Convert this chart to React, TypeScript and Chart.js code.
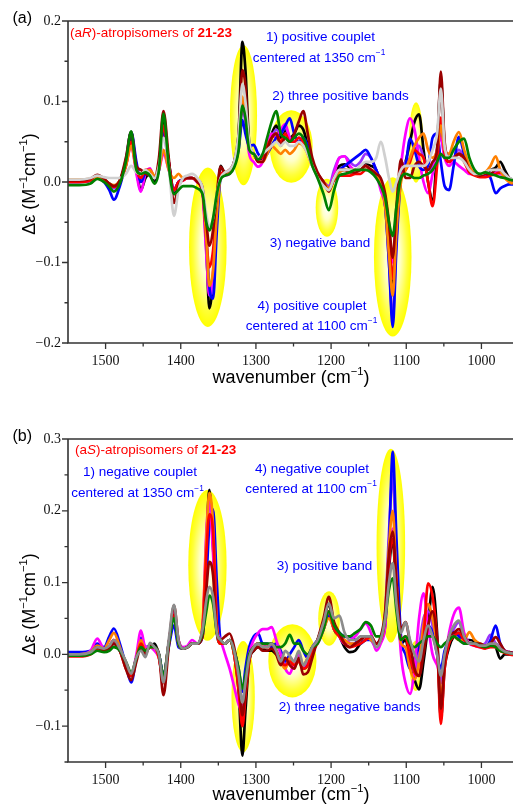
import React, { useEffect, useRef } from 'react';
import { Chart, registerables } from 'chart.js';

Chart.register(...registerables);

// ---------- data (Δε in units of 10^-3 M^-1 cm^-1) ----------
const wavenumbers = [
  1550, 1535, 1520, 1511, 1502, 1495, 1489, 1481, 1473, 1466,
  1459, 1453, 1447, 1441, 1435, 1429, 1423, 1416, 1409, 1403,
  1397, 1391, 1385, 1378, 1371, 1366, 1362, 1357, 1352, 1347,
  1341, 1335, 1329, 1323, 1318, 1314, 1309, 1303, 1297, 1291,
  1285, 1279, 1273, 1267, 1261, 1255, 1249, 1243, 1237, 1231,
  1225, 1218, 1210, 1203, 1196, 1189, 1182, 1175, 1168, 1161,
  1154, 1147, 1140, 1134, 1128, 1123, 1118, 1113, 1107, 1101,
  1095, 1089, 1083, 1077, 1071, 1065, 1059, 1054, 1049, 1043,
  1037, 1030, 1023, 1016, 1009, 1002, 995, 988, 981, 975,
  969, 963, 958,
];

// panel (a): (aR)-atropisomers
const aBlack = [
  0, 0, 2, 8, 3, -2, -5, 2, 25, 55,
  15, -10, 5, 10, 0, 20, 75, 25, -15, 0,
  3, 5, 5, 2, -10, -80, -157, -120, -35, 20,
  10, 12, 25, 60, 174, 140, 50, 35, 28, 30,
  45, 60, 70, 55, 65, 55, 60, 70, 65, 45,
  25, 10, 0, -10, 5, 20, 22, 18, 15, 15,
  22, 20, 15, -5, -20, -70, -125, -50, 10, 25,
  50, 75, 84, 40, 0, -22, 40, 128, 45, 25,
  30, 35, 30, 15, 10, 8, 10, 15, 18, 25,
  15, 5, 3,
];
const aMaroon = [
  2, 2, 4, 9, 4, -2, -5, 2, 30, 62,
  20, 15, 10, 8, 5, 30, 88, 30, -26, -5,
  3, 5, 5, 0, -12, -50, -79, -60, -15, 19,
  12, 15, 25, 60, 139, 120, 45, 35, 25, 25,
  40, 55, 60, 45, 55, 50, 60, 75, 88, 60,
  30, 12, 0, -12, 5, 15, 15, 12, 12, 15,
  20, 15, 10, 5, -15, -50, -94, -30, 28, 5,
  5, 20, 25, 20, 15, 25, 40, 137, 50, 30,
  30, 35, 30, 15, 10, 8, 10, 10, 15, 15,
  10, 5, 2,
];
const aRed = [
  0, 0, 2, 6, 3, -3, -6, 0, 20, 50,
  15, 5, 15, 15, 5, 20, 70, 25, -10, 0,
  2, 5, 5, 0, -12, -70, -106, -85, -25, 10,
  12, 15, 20, 45, 100, 85, 45, 35, 30, 30,
  45, 55, 60, 50, 60, 50, 50, 55, 50, 40,
  25, 10, 0, -8, 2, 8, 8, 8, 10, 10,
  15, 15, 10, 0, -20, -70, -120, -50, 5, 15,
  25, 40, 35, 30, 0, -30, 20, 80, 35, 25,
  30, 35, 25, 12, 8, 6, 6, 8, 10, 12,
  8, 4, 2,
];
const aBlue = [
  2, 2, 3, 5, 0, -10, -22, -5, 25, 62,
  25, 0, 10, 8, 5, 15, 65, 25, -10, 0,
  3, 5, 5, 2, -8, -70, -130, -145, -60, 5,
  10, 12, 20, 40, 77, 60, 45, 46, 35, 30,
  35, 45, 55, 60, 70, 79, 60, 50, 55, 45,
  25, 10, -2, -8, 5, 15, 20, 25, 30, 35,
  40, 30, 15, 0, -30, -100, -180, -80, 5, 20,
  54, 40, 20, 15, 20, 55, 60, 25, -5, -10,
  20, 56, 35, 15, 10, 8, 10, 5, -14, -8,
  -5, -3, -3,
];
const aMagenta = [
  0, 0, 2, 5, 2, -3, -6, 0, 20, 45,
  10, -12, 10, 17, 5, 15, 35, 15, -10, 0,
  2, 5, 5, 0, -15, -90, -140, -110, -30, 10,
  8, 10, 20, 50, 100, 80, 35, 25, 19, 25,
  45, 60, 55, 65, 72, 55, 50, 55, 50, 35,
  20, 10, 0, -10, 10, 30, 32, 20, 15, 15,
  20, 15, 10, -10, -30, -70, -100, -40, 20, 60,
  79, 65, 30, 0, -14, 10, 40, 55, 30, 20,
  25, 20, 15, 10, 10, 8, 8, 10, 12, 10,
  8, 4, 2,
];
const aPurple = [
  0, 0, 2, 5, 2, -3, -8, 0, 28, 62,
  20, 5, 12, 10, 5, 20, 60, 20, -10, 0,
  3, 5, 5, 0, -12, -85, -141, -130, -40, 5,
  10, 12, 20, 45, 90, 75, 40, 35, 30, 30,
  40, 55, 65, 60, 68, 55, 50, 55, 50, 40,
  25, 10, 0, -5, 15, 30, 32, 25, 20, 25,
  35, 30, 15, 0, -30, -100, -170, -70, 10, 25,
  30, 40, 45, 30, 15, 20, 40, 60, 30, 25,
  30, 40, 30, 15, 10, 8, 8, 10, 12, 12,
  8, 4, 2,
];
const aOrange = [
  3, 3, 4, 6, 3, -2, -4, 2, 20, 45,
  15, 10, 12, 15, 8, 15, 40, 15, 5, 10,
  5, 5, 5, 2, -8, -70, -129, -110, -40, 5,
  10, 12, 20, 45, 106, 90, 45, 35, 25, 25,
  35, 45, 40, 35, 40, 35, 40, 48, 45, 35,
  20, 10, 0, -8, 5, 12, 15, 15, 15, 15,
  20, 15, 10, 0, -30, -90, -141, -60, 0, 15,
  30, 45, 55, 60, 40, 30, 40, 70, 40, 35,
  50, 62, 40, 20, 10, 8, 12, 20, 32, 15,
  5, 0, -2,
];
const aGreen = [
  -4, -4, -2, 4, 0, -6, -12, -2, 25, 63,
  15, 10, 12, 8, -2, 15, 85, 20, -15, -10,
  -5, -5, -5, -8, -15, -50, -60, -45, -15, 3,
  8, 10, 18, 40, 95, 80, 40, 35, 28, 35,
  55, 75, 88, 60, 55, 50, 55, 60, 55, 40,
  20, 5, -15, -35, -10, 8, 10, 12, 15, 15,
  15, 12, 5, -5, -20, -50, -67, -30, 5, 10,
  8, 5, 5, 8, 10, 15, 25, 35, 30, 30,
  40, 50, 54, 30, 15, 10, 12, 10, 8, 6,
  5, 3, 2,
];
const aGrey = [
  3, 3, 5, 8, 6, 5, 5, 5, 10, 20,
  12, 10, 15, 10, 5, 20, 55, 20, -42, -10,
  5, 8, 10, 5, -8, -40, -55, -45, -15, 5,
  12, 15, 25, 60, 122, 100, 50, 35, 30, 35,
  40, 45, 50, 45, 50, 45, 45, 50, 45, 35,
  20, 5, -5, -10, 5, 15, 15, 15, 15, 20,
  25, 25, 30, 50, 30, 5, -12, 0, 15, 20,
  20, 20, 20, 20, 25, 40, 60, 116, 45, 30,
  30, 30, 25, 15, 10, 10, 12, 15, 15, 15,
  10, 5, 3,
];

// panel (b): (aS)-atropisomers
const bBlack = [
  0, 0, 2, 10, 5, 8, 15, 5, -15, -30,
  -5, 15, 5, 10, 15, 0, -30, 15, 55, 15,
  8, 10, 15, 15, 35, 150, 229, 150, 30, 15,
  15, 20, 0, -50, -141, -80, -10, 5, 10, 8,
  5, 5, 0, -5, -15, -10, -15, -10, -20, -15,
  0, 20, 45, 70, 35, 25, 10, 3, 5, 15,
  20, 25, 15, 20, 50, 120, 160, 80, 15, 20,
  -10, -35, -49, -10, 40, 94, 30, -90, -20, 10,
  25, 30, 20, 20, 18, 12, 10, 15, 10, -6,
  0, 0, 0,
];
const bMaroon = [
  -2, -2, 2, 10, 5, 8, 15, 5, -20, -36,
  -10, 10, 0, 12, 10, 0, -57, 10, 68, 20,
  8, 10, 15, 15, 25, 90, 129, 110, 30, 20,
  25, 29, 10, -30, -85, -50, -5, 5, 10, 5,
  5, 8, 0, -15, -5, -15, -20, -5, -28, -25,
  -5, 20, 50, 80, 45, 30, 15, 10, 15, 20,
  25, 25, 15, 25, 60, 140, 171, 100, 35, 45,
  15, -20, -30, 0, 40, 60, 20, -76, -10, 25,
  30, 35, 25, 15, 15, 15, 12, 15, 24, 15,
  5, 3, 2,
];
const bRed = [
  -3, -3, 0, 8, 5, 10, 20, 5, -20, -30,
  -5, 15, 5, 10, 10, -5, -40, 15, 55, 15,
  8, 10, 15, 15, 35, 140, 195, 170, 40, 15,
  15, 20, 0, -50, -100, -60, -10, 10, 15, 10,
  10, 15, 5, -10, -15, -10, -15, -10, -20, -15,
  5, 20, 40, 60, 35, 25, 15, 10, 12, 15,
  20, 25, 15, 20, 50, 130, 161, 90, 20, 25,
  -5, -25, -30, 20, 99, 80, 20, -97, -20, 15,
  25, 30, 20, 15, 12, 10, 8, 10, 10, 5,
  2, 0, -1,
];
const bBlue = [
  3, 3, 5, 15, 10, 25, 36, 15, -15, -39,
  -5, 23, 10, 12, 10, 0, -30, 10, 40, 10,
  8, 10, 15, 15, 25, 100, 180, 202, 100, 20,
  15, 20, 5, -20, -52, -20, 10, 25, 29, 15,
  15, 10, 15, 5, -10, 0, 10, 20, 5, -5,
  10, 20, 35, 54, 35, 30, 25, 25, 20, 15,
  20, 20, 15, 20, 40, 150, 282, 160, 25, 0,
  -20, -5, 10, 20, 40, 30, 0, -20, 5, 20,
  31, 25, 15, 15, 15, 12, 10, 20, 40, 15,
  5, 3, 2,
];
const bMagenta = [
  0, 0, 5, 22, 8, 12, 20, 5, -15, -30,
  0, 33, 10, 10, 5, -5, -35, 15, 60, 20,
  10, 12, 20, 15, 40, 170, 215, 140, 40, 20,
  0, -20, -45, -70, -80, -45, 0, 20, 30, 35,
  35, 38, 20, 0, -20, -27, -10, 0, -15, -5,
  10, 15, 35, 60, 40, 25, 15, 20, 25, 35,
  43, 30, 5, 15, 40, 130, 175, 100, 0, -40,
  -55, -20, 50, 85, 40, 0, -15, -30, -10, 30,
  55, 65, 30, 15, 12, 10, 10, 12, 15, 10,
  5, 3, 2,
];
const bPurple = [
  0, 0, 3, 12, 6, 10, 20, 5, -15, -30,
  -5, 20, 5, 10, 10, -5, -35, 15, 50, 15,
  8, 10, 15, 15, 35, 130, 190, 170, 60, 15,
  15, 20, 5, -30, -70, -40, -5, 10, 15, 15,
  10, 15, 5, -10, -15, -5, -15, -5, -20, -10,
  5, 15, 35, 55, 35, 30, 20, 15, 15, 20,
  25, 20, 10, 20, 60, 170, 250, 130, 15, 10,
  -10, -25, 10, 50, 60, 40, 10, -40, -10, 20,
  35, 45, 20, 15, 15, 12, 15, 27, 15, 8,
  4, 2, 1,
];
const bOrange = [
  0, 0, 3, 12, 8, 20, 30, 10, -15, -30,
  -5, 20, 5, 10, 10, -5, -35, 15, 55, 15,
  8, 10, 15, 15, 40, 160, 225, 180, 40, 15,
  15, 20, 0, -40, -90, -50, -5, 10, 15, 10,
  10, 15, 5, -10, -20, -5, -15, -10, -15, -5,
  5, 15, 35, 50, 35, 25, 20, 15, 15, 20,
  25, 20, 15, 20, 55, 150, 200, 100, 15, 10,
  -20, -35, -10, 40, 70, 50, 10, -60, -15, 20,
  25, 20, 20, 31, 20, 15, 12, 12, 10, 8,
  4, 2, 1,
];
const bGreen = [
  -2, -2, 0, 5, 3, 5, 10, 5, -10, -25,
  -5, 10, 5, 10, 10, 0, -30, 15, 50, 15,
  8, 10, 15, 15, 30, 60, 82, 70, 30, 20,
  15, 20, 5, -20, -48, -30, 0, 10, 15, 15,
  15, 15, 10, 10, 15, 27, 15, 15, 5, 0,
  10, 15, 35, 60, 40, 30, 25, 25, 30, 35,
  45, 40, 25, 25, 50, 90, 106, 60, 20, 25,
  15, 10, 15, 20, 25, 25, 15, 10, 15, 20,
  25, 20, 15, 15, 15, 12, 10, 12, 10, 5,
  3, 2, 1,
];
const bGrey = [
  0, 0, 3, 10, 8, 12, 20, 8, -10, -27,
  -4, 5, -4, 16, 10, 0, -39, 20, 69, 20,
  8, 10, 15, 15, 35, 75, 94, 80, 30, 20,
  15, 20, 5, -30, -67, -40, -5, 10, 15, 10,
  10, 15, 5, -10, 5, -2, -10, 5, -15, -5,
  10, 20, 45, 71, 50, 54, 30, 20, 20, 25,
  25, 25, 10, 20, 50, 100, 127, 70, 30, 45,
  20, 0, -10, 20, 40, 25, 0, -30, 0, 25,
  40, 47, 25, 15, 15, 12, 12, 15, 15, 8,
  4, 2, 1,
];

// ---------- axes ----------
const xRange = [958, 1550];
const xTickValues = [1500, 1400, 1300, 1200, 1100, 1000];
const xMinorValues = [1450, 1350, 1250, 1150, 1050];
const yRangeA = [-0.2, 0.2];
const yTicksA = [-0.2, -0.1, 0, 0.1, 0.2];
const yMinorA = [-0.15, -0.05, 0.05, 0.15];
const yRangeB = [-0.15, 0.3];
const yTicksB = [-0.1, 0, 0.1, 0.2, 0.3];
const yMinorB = [-0.15, -0.05, 0.05, 0.15, 0.25];

// ---------- styles ----------
const SANS = '"Liberation Sans", Arial, sans-serif';
const SERIF = '"Liberation Serif", "Times New Roman", serif';
const RED = '#ff0000';
const BLUE = '#0000ff';

const seriesA = [
  { values: aGreen, color: '#008000' },
  { values: aGrey, color: '#d0d0d0' },
  { values: aMaroon, color: '#990000' },
  { values: aOrange, color: '#ff8000' },
  { values: aRed, color: '#ff0000' },
  { values: aBlue, color: '#0000ff' },
  { values: aMagenta, color: '#ff00ff' },
  { values: aPurple, color: '#9933ff' },
  { values: aBlack, color: '#000000' },
];
const seriesB = [
  { values: bGrey, color: '#8c8c8c' },
  { values: bGreen, color: '#008000' },
  { values: bMaroon, color: '#990000' },
  { values: bRed, color: '#ff0000' },
  { values: bOrange, color: '#ff8000' },
  { values: bMagenta, color: '#ff00ff' },
  { values: bBlue, color: '#0000ff' },
  { values: bPurple, color: '#9933ff' },
  { values: bBlack, color: '#000000' },
];

// highlight ellipses in data units (wavenumber, Δε, radii)
const highlightsA = [
  { wn: 1316.5, v: 0.083, rwn: 18, rv: 0.087 },
  { wn: 1364, v: -0.081, rwn: 25, rv: 0.099 },
  { wn: 1253, v: 0.044, rwn: 28.5, rv: 0.045 },
  { wn: 1205.5, v: -0.032, rwn: 15, rv: 0.036 },
  { wn: 1118, v: -0.093, rwn: 25, rv: 0.099 },
  { wn: 1087, v: 0.049, rwn: 9.5, rv: 0.05 },
];
const highlightsB = [
  { wn: 1364.5, v: 0.124, rwn: 25.5, rv: 0.105 },
  { wn: 1317, v: -0.059, rwn: 15.5, rv: 0.0775 },
  { wn: 1251.5, v: -0.009, rwn: 32, rv: 0.051 },
  { wn: 1202.7, v: 0.05, rwn: 14.4, rv: 0.038 },
  { wn: 1120.5, v: 0.1515, rwn: 19, rv: 0.135 },
  { wn: 1087.5, v: -0.016, rwn: 8, rv: 0.035 },
];

type Seg = { t: string; s?: 'i' | 'b' | 'sup' };
type Note = { x: number; y: number; align: 'left' | 'center'; color: string; segs: Seg[] };

const notesA: Note[] = [
  { x: 70, y: 33, align: 'left', color: RED, segs: [{ t: '(a' }, { t: 'R', s: 'i' }, { t: ')-atropisomers of ' }, { t: '21-23', s: 'b' }] },
  { x: 320.5, y: 37.5, align: 'center', color: BLUE, segs: [{ t: '1) positive couplet' }] },
  { x: 319, y: 58, align: 'center', color: BLUE, segs: [{ t: 'centered at 1350 cm' }, { t: '−1', s: 'sup' }] },
  { x: 340.5, y: 96, align: 'center', color: BLUE, segs: [{ t: '2) three positive bands' }] },
  { x: 320, y: 243, align: 'center', color: BLUE, segs: [{ t: '3) negative band' }] },
  { x: 312, y: 306, align: 'center', color: BLUE, segs: [{ t: '4) positive couplet' }] },
  { x: 311.5, y: 326, align: 'center', color: BLUE, segs: [{ t: 'centered at 1100 cm' }, { t: '−1', s: 'sup' }] },
];
const notesB: Note[] = [
  { x: 75, y: 50, align: 'left', color: RED, segs: [{ t: '(a' }, { t: 'S', s: 'i' }, { t: ')-atropisomers of ' }, { t: '21-23', s: 'b' }] },
  { x: 140, y: 72.7, align: 'center', color: BLUE, segs: [{ t: '1) negative couplet' }] },
  { x: 137.5, y: 93.3, align: 'center', color: BLUE, segs: [{ t: 'centered at 1350 cm' }, { t: '−1', s: 'sup' }] },
  { x: 312, y: 69.3, align: 'center', color: BLUE, segs: [{ t: '4) negative couplet' }] },
  { x: 311, y: 89, align: 'center', color: BLUE, segs: [{ t: 'centered at 1100 cm' }, { t: '−1', s: 'sup' }] },
  { x: 324.5, y: 166.7, align: 'center', color: BLUE, segs: [{ t: '3) positive band' }] },
  { x: 349.7, y: 307.7, align: 'center', color: BLUE, segs: [{ t: '2) three negative bands' }] },
];

const xTitle: Seg[] = [{ t: 'wavenumber (cm' }, { t: '−1', s: 'sup' }, { t: ')' }];
const yTitle: Seg[] = [{ t: 'Δε (M' }, { t: '−1', s: 'sup' }, { t: 'cm' }, { t: '−1', s: 'sup' }, { t: ')' }];

function segFont(s: Seg['s'], size: number) {
  if (s === 'i') return `italic ${size}px ${SANS}`;
  if (s === 'b') return `bold ${size}px ${SANS}`;
  if (s === 'sup') return `${(size * 0.62).toFixed(2)}px ${SANS}`;
  return `${size}px ${SANS}`;
}

function drawRich(ctx: CanvasRenderingContext2D, segs: Seg[], x: number, y: number, size: number, color: string, align: 'left' | 'center') {
  ctx.save();
  ctx.textBaseline = 'middle';
  ctx.textAlign = 'left';
  ctx.fillStyle = color;
  const widths = segs.map((g) => {
    ctx.font = segFont(g.s, size);
    return ctx.measureText(g.t).width;
  });
  const total = widths.reduce((a, b) => a + b, 0);
  let cx = align === 'center' ? x - total / 2 : x;
  segs.forEach((g, i) => {
    ctx.font = segFont(g.s, size);
    ctx.fillText(g.t, cx, g.s === 'sup' ? y - size * 0.36 : y);
    cx += widths[i];
  });
  ctx.restore();
}

function fmtY(v: number) {
  const r = Math.round(v * 100) / 100;
  if (r === 0) return '0.0';
  return (r < 0 ? '−' : '') + Math.abs(r).toFixed(1);
}

type PanelProps = {
  top: number;
  height: number;
  padTop: number;
  xAxisH: number;
  series: { values: number[]; color: string }[];
  yRange: number[];
  yTicks: number[];
  yMinor: number[];
  highlights: { wn: number; v: number; rwn: number; rv: number }[];
  notes: Note[];
  label: string;
  labelY: number;
  xTitleY: number;
  yTitleY: number;
};

function Panel(p: PanelProps) {
  const ref = useRef<HTMLCanvasElement | null>(null);
  useEffect(() => {
    const canvas = ref.current;
    if (!canvas) return;
    const decor = {
      id: 'decor',
      beforeDatasetsDraw(chart: any) {
        const { ctx, chartArea } = chart;
        const xs = chart.scales.x;
        const ys = chart.scales.y;
        ctx.save();
        ctx.beginPath();
        ctx.rect(chartArea.left, chartArea.top, chartArea.right - chartArea.left, chartArea.bottom - chartArea.top);
        ctx.clip();
        p.highlights.forEach((h) => {
          const cx = xs.getPixelForValue(h.wn);
          const cy = ys.getPixelForValue(h.v);
          const rx = Math.abs(xs.getPixelForValue(h.wn + h.rwn) - cx);
          const ry = Math.abs(ys.getPixelForValue(h.v + h.rv) - cy);
          ctx.save();
          ctx.translate(cx, cy);
          ctx.scale(rx, ry);
          const g = ctx.createRadialGradient(0, 0, 0, 0, 0, 1);
          g.addColorStop(0, '#ffffff');
          g.addColorStop(0.4, '#ffffc8');
          g.addColorStop(0.78, '#ffff3c');
          g.addColorStop(1, '#ffff00');
          ctx.fillStyle = g;
          ctx.beginPath();
          ctx.arc(0, 0, 1, 0, Math.PI * 2);
          ctx.fill();
          ctx.restore();
        });
        ctx.restore();
      },
      afterDraw(chart: any) {
        const { ctx, chartArea } = chart;
        const { left, right, top, bottom } = chartArea;
        const xs = chart.scales.x;
        const ys = chart.scales.y;
        ctx.save();
        ctx.strokeStyle = '#333333';
        ctx.lineWidth = 1.6;
        ctx.beginPath();
        ctx.moveTo(left, top);
        ctx.lineTo(right, top);
        ctx.moveTo(left, top);
        ctx.lineTo(left, bottom);
        ctx.lineTo(right, bottom);
        ctx.stroke();
        ctx.lineWidth = 1.3;
        ctx.beginPath();
        xTickValues.forEach((v) => {
          const px = xs.getPixelForValue(v);
          ctx.moveTo(px, bottom);
          ctx.lineTo(px, bottom + 6);
        });
        xMinorValues.forEach((v) => {
          const px = xs.getPixelForValue(v);
          ctx.moveTo(px, bottom);
          ctx.lineTo(px, bottom + 3.5);
        });
        p.yTicks.forEach((v) => {
          const py = ys.getPixelForValue(v);
          ctx.moveTo(left - 6, py);
          ctx.lineTo(left, py);
        });
        p.yMinor.forEach((v) => {
          const py = ys.getPixelForValue(v);
          ctx.moveTo(left - 3.5, py);
          ctx.lineTo(left, py);
        });
        ctx.stroke();
        ctx.restore();

        p.notes.forEach((n) => drawRich(ctx, n.segs, n.x, n.y, 13.5, n.color, n.align));
        drawRich(ctx, [{ t: p.label }], 12.5, p.labelY, 16, '#000', 'left');
        drawRich(ctx, xTitle, 291, p.xTitleY, 18, '#000', 'center');
        ctx.save();
        ctx.translate(30, p.yTitleY);
        ctx.rotate(-Math.PI / 2);
        drawRich(ctx, yTitle, 0, 0, 18, '#000', 'center');
        ctx.restore();
      },
    };

    const chart = new Chart(canvas, {
      type: 'line',
      data: {
        datasets: p.series.map((s) => ({
          data: wavenumbers.map((w, i) => ({ x: w, y: s.values[i] / 1000 })),
          borderColor: s.color,
          backgroundColor: s.color,
          borderWidth: 2.7,
          pointRadius: 0,
          fill: false,
          cubicInterpolationMode: 'monotone' as const,
        })),
      },
      options: {
        animation: false,
        responsive: false,
        devicePixelRatio: 1,
        events: [],
        layout: { padding: { top: p.padTop, left: 0, right: 0, bottom: 0 } },
        plugins: { legend: { display: false }, tooltip: { enabled: false }, title: { display: false } },
        scales: {
          x: {
            type: 'linear',
            reverse: true,
            min: xRange[0],
            max: xRange[1],
            afterBuildTicks: (s: any) => {
              s.ticks = xTickValues.map((v) => ({ value: v }));
            },
            afterFit: (s: any) => {
              s.height = p.xAxisH;
            },
            grid: { display: false, drawTicks: false },
            border: { display: false },
            ticks: {
              font: { family: SERIF, size: 14 },
              color: '#111',
              padding: 10,
              maxRotation: 0,
              autoSkip: false,
              callback: (v: any) => String(v),
            },
          },
          y: {
            type: 'linear',
            min: p.yRange[0],
            max: p.yRange[1],
            afterBuildTicks: (s: any) => {
              s.ticks = p.yTicks.map((v) => ({ value: v }));
            },
            afterFit: (s: any) => {
              s.width = 68;
            },
            grid: { display: false, drawTicks: false },
            border: { display: false },
            ticks: {
              font: { family: SERIF, size: 14 },
              color: '#111',
              padding: 7,
              autoSkip: false,
              callback: (v: any) => fmtY(Number(v)),
            },
          },
        },
      },
      plugins: [decor],
    } as any);
    return () => chart.destroy();
  }, []);
  return (
    <canvas
      ref={ref}
      width={513}
      height={p.height}
      style={{ position: 'absolute', left: 0, top: p.top, width: 513, height: p.height, display: 'block' }}
    />
  );
}

export default function App() {
  return (
    <div style={{ position: 'absolute', left: 0, top: 0, width: 513, height: 805, background: '#ffffff', overflow: 'hidden' }}>
      <Panel
        top={0}
        height={400}
        padTop={21}
        xAxisH={57}
        series={seriesA}
        yRange={yRangeA}
        yTicks={yTicksA}
        yMinor={yMinorA}
        highlights={highlightsA}
        notes={notesA}
        label="(a)"
        labelY={18.5}
        xTitleY={378}
        yTitleY={184}
      />
      <Panel
        top={400}
        height={405}
        padTop={39}
        xAxisH={43}
        series={seriesB}
        yRange={yRangeB}
        yTicks={yTicksB}
        yMinor={yMinorB}
        highlights={highlightsB}
        notes={notesB}
        label="(b)"
        labelY={36.7}
        xTitleY={395}
        yTitleY={204}
      />
    </div>
  );
}
